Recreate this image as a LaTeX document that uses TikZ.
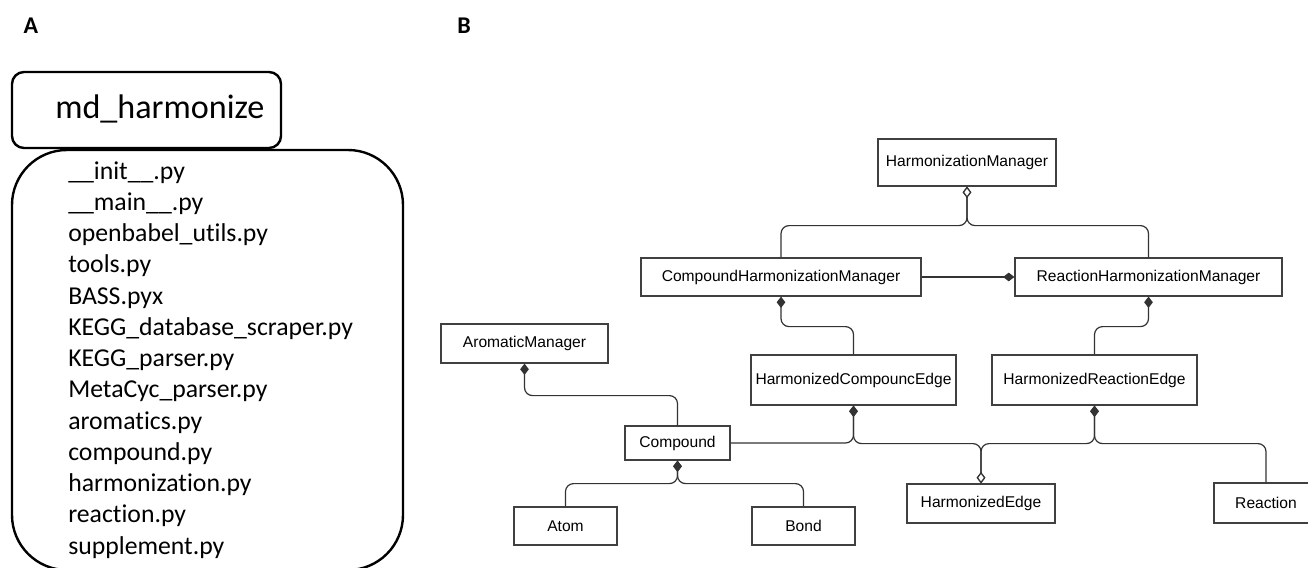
\documentclass[tikz,border=0pt]{standalone}
\usepackage{fontspec}
\setmainfont{Carlito}[Ligatures=NoCommon]
\newfontfamily\umlfont{Liberation Sans}
\usetikzlibrary{arrows.meta}
\begin{document}
\begin{tikzpicture}[x=0.75pt,y=-0.75pt,
  cls/.style={draw=black!75, line width=0.9pt, fill=white, inner sep=0pt,
    font=\umlfont\fontsize{11.7}{13}\selectfont},
  sz/.style 2 args={minimum width=#1*0.75pt, minimum height=#2*0.75pt},
  conn/.style={draw=black!80, line width=0.9pt, rounded corners=6pt},
  fd/.tip={Diamond[length=8.5pt,width=6.5pt]},
  od/.tip={Diamond[open,length=8.5pt,width=6.5pt,fill=white]},
  panel/.style={font=\bfseries\fontsize{18}{20}\selectfont, inner sep=0pt},
  frame/.style={draw=black, line width=1.8pt},
  file/.style={anchor=base west, inner sep=0pt, font=\fontsize{19.3}{23}\selectfont}
]
\useasboundingbox (0,0) rectangle (1308,567);
\fill[white] (0,0) rectangle (1308,567);

% ---------- Panel A ----------
\node[panel] (la) at (31,26) {A};
\node[panel] (lb) at (464,26) {B};

\draw[frame, rounded corners=55*0.75pt] (12,150) rectangle (403,570);
\draw[frame, rounded corners=12*0.75pt, fill=white] (12,72) rectangle (281,148);
\node[anchor=base west, inner sep=0pt, font=\fontsize{25.6}{30}\selectfont] (pkg) at (55,118) {md\_harmonize};

\foreach \t [count=\i from 0] in {\_\_init\_\_.py, \_\_main\_\_.py, openbabel\_utils.py, tools.py, BASS.pyx, KEGG\_database\_scraper.py, KEGG\_parser.py, MetaCyc\_parser.py, aromatics.py, compound.py, harmonization.py, reaction.py, supplement.py}
  \node[file] (f\i) at (68,{179+31.25*\i}) {\t};

% ---------- Panel B ----------
\node[cls, sz={178}{47}] (hm) at (967,162.5) {HarmonizationManager};
\node[cls, sz={280}{38}] (chm) at (781,277) {CompoundHarmonizationManager};
\node[cls, sz={267}{38}] (rhm) at (1148.5,277) {ReactionHarmonizationManager};
\node[cls, sz={167}{39}] (aro) at (524.5,343.5) {AromaticManager};
\node[cls, sz={205}{50}] (hce) at (853.5,380) {HarmonizedCompouncEdge};
\node[cls, sz={205}{50}] (hre) at (1094.5,380) {HarmonizedReactionEdge};
\node[cls, sz={105}{34}] (comp) at (677.5,443) {Compound};
\node[cls, sz={148}{39}] (hedge) at (981,503.5) {HarmonizedEdge};
\node[cls, sz={104}{40}] (react) at (1266,503) {Reaction};
\node[cls, sz={103}{38}] (atom) at (565.5,526) {Atom};
\node[cls, sz={103}{38}] (bond) at (803.5,526) {Bond};

\draw[conn, od-] (hm.south) -- ++(0,39) -| (chm.north);
\draw[conn, od-] (hm.south) -- ++(0,39) -| (rhm.north);
\draw[conn, -fd] (chm.east) -- (rhm.west);
\draw[conn, fd-] (chm.south) -- ++(0,30) -| (hce.north);
\draw[conn, fd-] (rhm.south) -- ++(0,30) -| (hre.north);
\draw[conn, fd-] (aro.south) -- ++(0,32) -| (comp.north);
\draw[conn, fd-] (hce.south) |- (comp.east);
\draw[conn, fd-od] (hce.south) -- ++(0,38) -| (hedge.north);
\draw[conn, fd-od] (hre.south) -- ++(0,38) -| (hedge.north);
\draw[conn, fd-] (hre.south) -- ++(0,38) -| (react.north);
\draw[conn, fd-] (comp.south) -- ++(0,23) -| (atom.north);
\draw[conn, fd-] (comp.south) -- ++(0,23) -| (bond.north);
\end{tikzpicture}
\end{document}
